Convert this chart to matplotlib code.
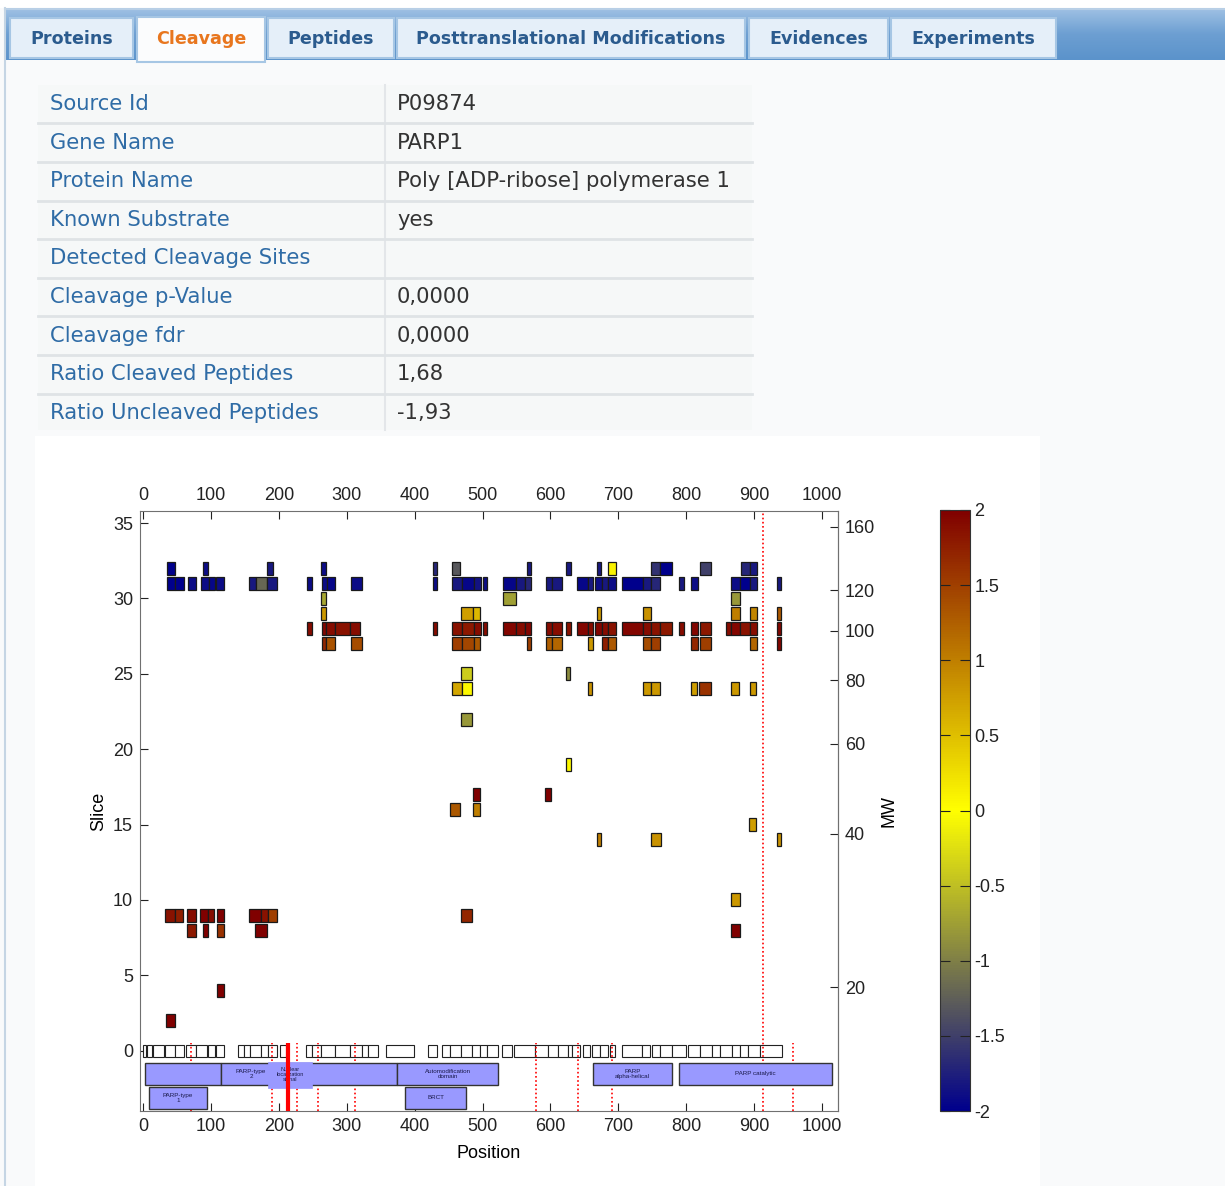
import numpy as np
import matplotlib.pyplot as plt
from matplotlib.colors import LinearSegmentedColormap, Normalize
from matplotlib.cm import ScalarMappable
from matplotlib.patches import Rectangle

# ---- page content ----
tab_names = ["Proteins", "Cleavage", "Peptides", "Posttranslational Modifications",
             "Evidences", "Experiments"]
active_tab = "Cleavage"

info_labels = ["Source Id", "Gene Name", "Protein Name", "Known Substrate",
               "Detected Cleavage Sites", "Cleavage p-Value", "Cleavage fdr",
               "Ratio Cleaved Peptides", "Ratio Uncleaved Peptides"]
info_values = ["P09874", "PARP1", "Poly [ADP-ribose] polymerase 1", "yes", "",
               "0,0000", "0,0000", "1,68", "-1,93"]

# ---- peptides: (start, end, log ratio) for each gel slice ----
slices = [32, 31, 30, 29, 28, 27, 25, 24, 22, 19, 17, 16, 15, 14, 10, 9, 8, 4, 2]
s32 = [(35, 47, -2.0), (88, 96, -1.9), (183, 192, -1.8), (262, 269, -1.9), (427, 433, -1.7),
       (455, 467, -1.3), (565, 571, -1.8), (623, 630, -1.8), (669, 674, -1.8), (685, 696, 0.1),
       (748, 761, -1.6), (761, 779, -2.0), (820, 837, -1.5), (880, 894, -1.7), (894, 904, -1.8)]
s31 = [(35, 47, -2.0), (47, 60, -2.0), (66, 78, -1.9), (86, 97, -1.9), (97, 106, -1.95),
       (108, 119, -1.9), (156, 166, -1.8), (166, 182, -1.2), (182, 197, -1.8), (241, 249, -1.9),
       (263, 271, -1.9), (271, 283, -1.95), (306, 322, -1.9), (427, 433, -1.9), (455, 469, -1.8),
       (469, 487, -1.95), (487, 498, -1.85), (500, 506, -1.9), (530, 550, -1.95), (550, 562, -1.8),
       (562, 571, -1.7), (593, 602, -1.8), (602, 617, -1.8), (639, 656, -1.95), (656, 662, -1.8),
       (666, 676, -1.9), (676, 685, -1.8), (685, 696, -1.9), (705, 737, -2.0), (737, 748, -1.8),
       (748, 761, -1.7), (789, 797, -1.8), (807, 818, -1.9), (866, 879, -1.9), (879, 894, -2.0),
       (894, 904, -1.8), (934, 940, -1.8)]
s30 = [(262, 269, -0.7), (530, 549, -0.75), (866, 879, -0.8)]
s29 = [(262, 269, 0.8), (468, 486, 0.75), (486, 496, 0.55), (669, 674, 0.8), (737, 748, 0.85),
       (866, 879, 1.0), (894, 904, 0.95), (934, 940, 1.3)]
s28 = [(241, 249, 1.9), (263, 270, 1.95), (270, 283, 1.9), (283, 305, 1.85), (305, 320, 1.9),
       (427, 433, 1.9), (455, 469, 1.85), (469, 487, 1.8), (487, 498, 1.9), (500, 506, 1.9),
       (530, 550, 1.95), (550, 562, 1.9), (562, 571, 1.95), (593, 602, 1.9), (602, 617, 1.9),
       (623, 630, 1.85), (639, 656, 1.95), (656, 662, 1.9), (666, 676, 1.95), (676, 685, 1.9),
       (685, 696, 1.85), (705, 737, 1.95), (737, 748, 1.9), (748, 761, 1.85), (761, 779, 1.8),
       (789, 797, 1.9), (807, 818, 1.95), (820, 837, 1.8), (859, 866, 1.9), (866, 879, 1.95),
       (879, 894, 1.85), (894, 904, 1.9), (934, 940, 1.95)]
s27 = [(263, 270, 1.7), (270, 283, 1.35), (306, 322, 1.4), (455, 469, 1.5), (469, 487, 1.45),
       (487, 496, 1.3), (565, 571, 1.5), (593, 602, 1.25), (602, 617, 1.2), (656, 662, 0.8),
       (676, 685, 1.75), (685, 696, 1.3), (737, 748, 1.4), (748, 761, 1.5), (807, 818, 1.7),
       (820, 837, 1.5), (894, 904, 1.2), (934, 940, 1.95)]
s25 = [(468, 484, -0.4), (623, 629, -0.9)]
s24 = [(455, 470, 0.7), (470, 484, 0.05), (655, 661, 0.85), (736, 748, 0.8), (748, 761, 0.8),
       (807, 816, 0.75), (819, 836, 1.6), (866, 878, 0.8), (894, 903, 0.8)]
s22 = [(468, 484, -0.8)]
s19 = [(623, 630, 0.05)]
s17 = [(486, 496, 2.0), (592, 601, 2.0)]
s16 = [(452, 467, 1.3), (486, 496, 1.0)]
s15 = [(892, 903, 0.75)]
s14 = [(668, 674, 1.0), (748, 763, 0.85), (934, 940, 0.85)]
s10 = [(866, 879, 0.8)]
s9 = [(32, 47, 1.85), (47, 59, 1.75), (65, 78, 1.9), (84, 96, 2.0), (96, 105, 1.9),
      (109, 119, 2.0), (156, 174, 2.0), (174, 184, 1.85), (184, 197, 1.5), (468, 484, 1.7)]
s8 = [(65, 78, 1.8), (88, 96, 2.0), (109, 119, 1.6), (165, 183, 2.0), (866, 879, 2.0)]
s4 = [(109, 119, 2.0)]
s2 = [(34, 47, 2.0)]
peptides_by_slice = [s32, s31, s30, s29, s28, s27, s25, s24, s22, s19, s17, s16, s15, s14,
                     s10, s9, s8, s4, s2]

# ---- sequence coverage (all identified peptides) ----
cov_start = [0, 6, 15, 32, 47, 63, 78, 96, 108, 140, 149, 158, 174, 184, 202, 240, 249, 262,
             283, 305, 322, 331, 358, 420, 440, 452, 468, 484, 496, 507, 529, 546, 577, 596,
             611, 626, 632, 648, 661, 673, 688, 705, 735, 750, 761, 779, 803, 820, 838, 850,
             867, 879, 891, 909]
cov_end = [5, 13, 31, 47, 60, 78, 94, 106, 119, 149, 158, 174, 184, 197, 211, 249, 262, 283,
           305, 322, 331, 346, 399, 433, 452, 468, 484, 496, 507, 523, 543, 577, 596, 611,
           626, 632, 644, 658, 673, 685, 695, 735, 747, 761, 779, 800, 820, 838, 850, 867,
           879, 891, 909, 941]

# ---- domains ----
dom_upper = [("", 3, 115), ("PARP-type\n2", 115, 203), ("", 203, 374),
             ("Automodification\ndomain", 374, 523), ("PARP\nalpha-helical", 662, 779),
             ("PARP catalytic", 789, 1014)]
dom_lower = [("PARP-type\n1", 9, 94), ("BRCT", 386, 476)]
dom_nls = ("Nuclear\nlocalization\nsignal", 184, 249)

# ---- cleavage sites ----
cut_sites = [71, 190, 227, 258, 312, 579, 641, 691, 957]
cut_full = 913
cut_main = 213

mw_ticks = [20, 40, 60, 80, 100, 120, 160]
cbar_ticks = [-2, -1.5, -1, -0.5, 0, 0.5, 1, 1.5, 2]
cbar_labels = ["-2", "-1.5", "-1", "-0.5", "0", "0.5", "1", "1.5", "2"]

cmap = LinearSegmentedColormap.from_list(
    "ratio", [(0.0, 0.0, 0.55), (1.0, 1.0, 0.0), (0.5, 0.0, 0.0)])
norm = Normalize(-2, 2)

W, H = 1225, 1186
fig = plt.figure(figsize=(W / 100, H / 100), dpi=100, facecolor="#f9fafb")

# ---------------- web page frame ----------------
bg = fig.add_axes([0, 0, 1, 1])
bg.set_xlim(0, W)
bg.set_ylim(H, 0)
bg.axis("off")

bg.add_patch(Rectangle((0, 0), W, 8, facecolor="white", edgecolor="none"))
grad = np.linspace(0, 1, 60).reshape(-1, 1)
hdr_cmap = LinearSegmentedColormap.from_list("hdr", ["#9fc1e4", "#6d9fd2", "#5b93cb"])
bg.imshow(grad, extent=(5, W, 60, 8), aspect="auto", cmap=hdr_cmap, zorder=1)
bg.plot([5, W], [8.5, 8.5], color="#b8cfe6", lw=1.5, zorder=2)
bg.plot([5, 5], [8, H], color="#c5d5e4", lw=1.5, zorder=2)

tab_left = [10, 137, 268, 397, 749, 891]
tab_right = [133, 265, 394, 745, 888, 1056]
for name, l, r in zip(tab_names, tab_left, tab_right):
    if name == active_tab:
        bg.add_patch(Rectangle((l, 17), r - l, 45, facecolor="#fbfcfd",
                               edgecolor="#a6c6e4", lw=1.5, zorder=3))
        col = "#e8761e"
    else:
        bg.add_patch(Rectangle((l, 18), r - l, 40, facecolor="#e5eff9",
                               edgecolor="#a6c6e4", lw=1.5, zorder=3))
        col = "#2b5b8e"
    bg.text((l + r) / 2, 39, name, ha="center", va="center", fontsize=12.6,
            fontweight="bold", color=col, family="DejaVu Sans", zorder=4)

# info table
bg.add_patch(Rectangle((38, 85), 714, 345, facecolor="#f6f8f8", edgecolor="none", zorder=1))
bg.plot([385, 385], [85, 430], color="#e3e6e9", lw=1.5, zorder=2)
row_h = 38.6
for i, (lab, val) in enumerate(zip(info_labels, info_values)):
    yc = 104 + i * row_h
    bg.text(50, yc, lab, ha="left", va="center", fontsize=15.2, color="#2f6ca6",
            family="DejaVu Sans", zorder=3)
    bg.text(397, yc, val, ha="left", va="center", fontsize=15.2, color="#333333",
            family="DejaVu Sans", zorder=3)
    if i < len(info_labels) - 1:
        bg.plot([38, 752], [yc + row_h / 2, yc + row_h / 2], color="#dfe3e6", lw=2, zorder=2)

# white chart panel
bg.add_patch(Rectangle((35, 436), 1005, 750, facecolor="white", edgecolor="none", zorder=1))

# ---------------- chart ----------------
plt.rcParams["font.family"] = ["Liberation Sans", "DejaVu Sans"]
ax = fig.add_axes([140 / W, 1 - 1111 / H, 698 / W, 600 / H])
ax.set_xlim(-4.5, 1023.5)
ax.set_ylim(-4, 35.8)

for s, peps in zip(slices, peptides_by_slice):
    st = np.array([p[0] for p in peps])
    en = np.array([p[1] for p in peps])
    rv = np.array([p[2] for p in peps])
    ax.bar(st, 0.86, width=en - st, bottom=s - 0.43, align="edge",
           color=cmap(norm(rv)), edgecolor="#1a1a1a", linewidth=0.9, zorder=3)

cs = np.array(cov_start)
ce = np.array(cov_end)
ax.bar(cs, 0.8, width=ce - cs, bottom=-0.4, align="edge", color="white",
       edgecolor="#222222", linewidth=0.8, zorder=2)

ax.vlines(cut_sites, -4, 0.5, colors="red", linestyles=(0, (1, 1.5)), lw=1.2, zorder=3)
ax.vlines([cut_full], -4, 35.8, colors="red", linestyles=(0, (1, 1.5)), lw=1.2, zorder=3)

dom_col = "#9999ff"
for lab, a, b in dom_upper:
    ax.bar(a, 1.45, width=b - a, bottom=-2.25, align="edge", color=dom_col,
           edgecolor="#333333", linewidth=1, zorder=4)
    if lab:
        ax.text((a + b) / 2, -1.52, lab, ha="center", va="center", fontsize=4.5,
                color="#1a1a4a", zorder=6, linespacing=1.0)
for lab, a, b in dom_lower:
    ax.bar(a, 1.45, width=b - a, bottom=-3.85, align="edge", color=dom_col,
           edgecolor="#333333", linewidth=1, zorder=4)
    ax.text((a + b) / 2, -3.12, lab, ha="center", va="center", fontsize=4.5,
            color="#1a1a4a", zorder=6, linespacing=1.0)
lab, a, b = dom_nls
ax.bar(a, 1.73, width=b - a, bottom=-2.46, align="edge", color=dom_col,
       edgecolor="#9999ff", linewidth=0.5, zorder=5)
ax.text((a + b) / 2, -1.6, lab, ha="center", va="center", fontsize=4,
        color="#1a1a4a", zorder=6, linespacing=1.0)
ax.vlines([cut_main], -4, 0.5, colors="red", lw=3, zorder=7)

ax.set_xticks(range(0, 1001, 100))
ax.set_yticks(range(0, 36, 5))
ax.tick_params(direction="in", length=6, top=True, labeltop=True, right=False,
               labelsize=13, colors="#222222", pad=5)
for sp in ax.spines.values():
    sp.set_color("#707070")
ax.set_xlabel("Position", fontsize=13, labelpad=7)
ax.set_ylabel("Slice", fontsize=13, labelpad=4)


def slice_to_mw(s):
    return 20 * np.exp((np.asarray(s, dtype=float) - 4.2) / 14.7)


def mw_to_slice(m):
    return 4.2 + 14.7 * np.log(np.clip(np.asarray(m, dtype=float), 1e-6, None) / 20)


sec = ax.secondary_yaxis("right", functions=(slice_to_mw, mw_to_slice))
sec.set_yticks(mw_ticks)
sec.set_yticklabels([str(t) for t in mw_ticks])
sec.tick_params(direction="in", length=6, labelsize=13, colors="#222222", pad=5)
sec.spines["right"].set_color("#707070")
sec.set_ylabel("MW", fontsize=13, labelpad=4)

# colorbar
cax = fig.add_axes([940 / W, 1 - 1111 / H, 30 / W, 601 / H])
cb = fig.colorbar(ScalarMappable(norm=norm, cmap=cmap), cax=cax)
cb.set_ticks(cbar_ticks)
cb.set_ticklabels(cbar_labels)
cax.tick_params(direction="in", length=7, left=True, right=True, labelsize=13,
                colors="#222222", pad=3)
cb.outline.set_edgecolor("#333333")

fig.savefig("out.png", dpi=100, facecolor=fig.get_facecolor())
